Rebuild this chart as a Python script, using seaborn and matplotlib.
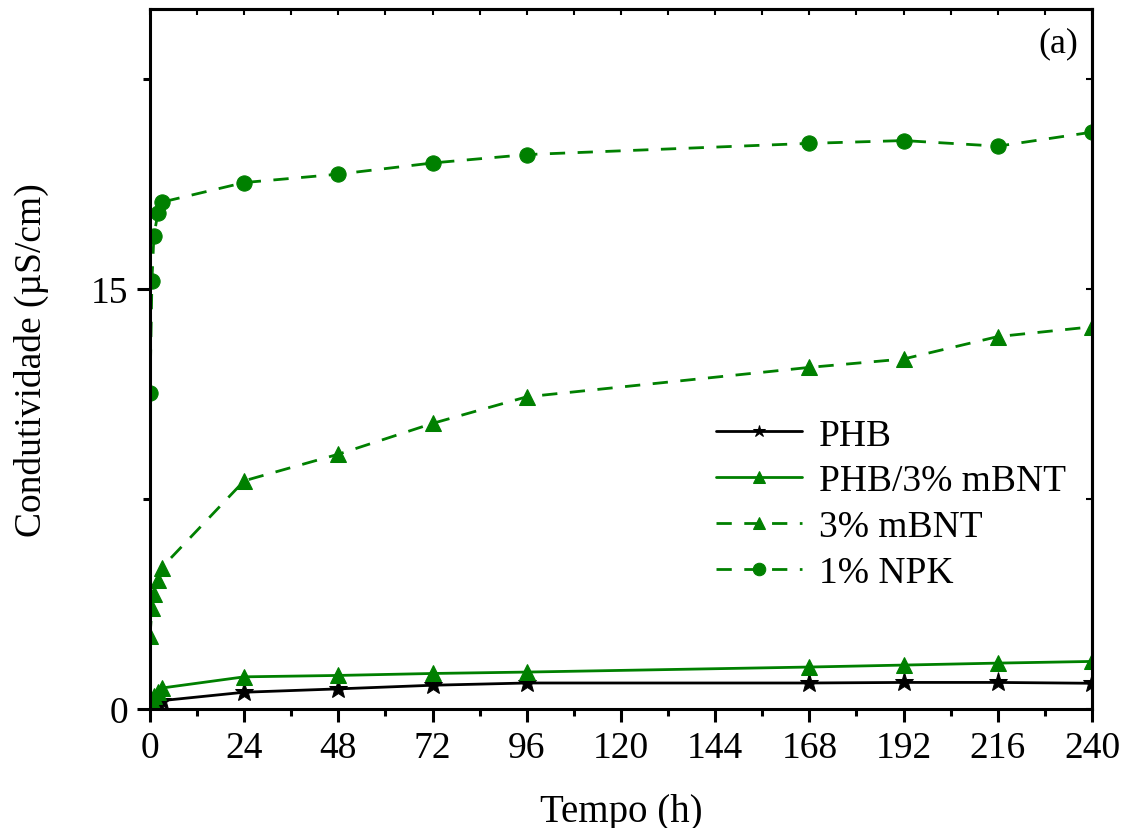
import matplotlib
matplotlib.use("Agg")
import matplotlib.pyplot as plt
import seaborn as sns
import numpy as np
import pandas as pd
from matplotlib.ticker import MultipleLocator, FixedLocator

# ---- data ----
tempo = [0, 0.5, 1, 2, 3, 24, 48, 72, 96, 168, 192, 216, 240]
phb = [0.05, 0.1, 0.15, 0.2, 0.3, 0.6, 0.72, 0.85, 0.93, 0.93, 0.95, 0.95, 0.92]
phb_mbnt = [0.1, 0.3, 0.45, 0.6, 0.75, 1.15, 1.2, 1.27, 1.32, 1.5, 1.57, 1.64, 1.7]
mbnt = [2.6, 3.6, 4.1, 4.6, 5.05, 8.15, 9.1, 10.2, 11.15, 12.2, 12.5, 13.3, 13.65]
npk = [11.3, 15.3, 16.9, 17.7, 18.1, 18.8, 19.1, 19.5, 19.8, 20.2, 20.3, 20.1, 20.6]
x_ticks = [0, 24, 48, 72, 96, 120, 144, 168, 192, 216, 240]
y_ticks = [0, 15]

sns.set_style("ticks")
plt.rcParams['font.family'] = ['Liberation Serif', 'DejaVu Serif']
for k in ['text.color', 'axes.labelcolor', 'xtick.color', 'ytick.color', 'axes.edgecolor']:
    plt.rcParams[k] = 'black'

fig = plt.figure(figsize=(11.26, 8.29), dpi=100)
ax = fig.add_axes([0.1332, 0.1435, 0.9698 - 0.1332, 0.988 - 0.1435])

green = '#008000'
dash = (0, (5.5, 4.5))
sns.lineplot(x=tempo, y=phb, ax=ax, color='black', marker='*', markersize=14,
             linewidth=2.0, label='PHB', markeredgecolor='black')
sns.lineplot(x=tempo, y=phb_mbnt, ax=ax, color=green, marker='^', markersize=12,
             linewidth=2.0, label='PHB/3% mBNT', markeredgecolor=green)
sns.lineplot(x=tempo, y=mbnt, ax=ax, color=green, marker='^', markersize=12,
             linewidth=2.0, linestyle=dash, label='3% mBNT', markeredgecolor=green)
sns.lineplot(x=tempo, y=npk, ax=ax, color=green, marker='o', markersize=11,
             linewidth=2.0, linestyle=dash, label='1% NPK', markeredgecolor=green)

ax.set_xlim(0, 240)
ax.set_ylim(0, 25)
ax.xaxis.set_major_locator(FixedLocator(x_ticks))
ax.xaxis.set_minor_locator(MultipleLocator(12))
ax.yaxis.set_major_locator(FixedLocator(y_ticks))
ax.yaxis.set_minor_locator(FixedLocator([7.5, 22.5]))
ax.set_xticklabels([str(v) for v in x_ticks])
ax.set_yticklabels([str(v) for v in y_ticks])

for s in ax.spines.values():
    s.set_visible(True)
    s.set_linewidth(2.2)
    s.set_color('black')

ax.tick_params(axis='both', which='major', direction='out', length=9.5, width=2.2,
               labelsize=27, pad=6)
ax.tick_params(axis='both', which='minor', direction='out', length=5, width=2.2)
ax2x = ax.secondary_xaxis('top')
ax2x.xaxis.set_major_locator(FixedLocator(x_ticks))
ax2x.xaxis.set_minor_locator(MultipleLocator(12))
ax2x.tick_params(which='both', direction='in', length=4, width=1.5, labeltop=False)
ax2x.spines['top'].set_linewidth(2.2)
ax2y = ax.secondary_yaxis('right')
ax2y.yaxis.set_major_locator(FixedLocator(y_ticks))
ax2y.yaxis.set_minor_locator(FixedLocator([7.5, 22.5]))
ax2y.tick_params(which='both', direction='in', length=4, width=1.5, labelright=False)
ax2y.spines['right'].set_linewidth(2.2)

ax.set_xlabel('Tempo (h)', fontsize=28, labelpad=20)
ax.set_ylabel('Condutividade (µS/cm)', fontsize=27, labelpad=30)

ax.text(0.985, 0.975, '(a)', transform=ax.transAxes, ha='right', va='top', fontsize=26)

leg = ax.legend(loc='upper left', bbox_to_anchor=(0.585, 0.437), frameon=False,
                fontsize=27, handlelength=2.3, handletextpad=0.45, labelspacing=0.3,
                numpoints=1, borderaxespad=0)
for h in leg.legend_handles:
    h.set_markersize(9)

fig.savefig('out.png', dpi=100)
